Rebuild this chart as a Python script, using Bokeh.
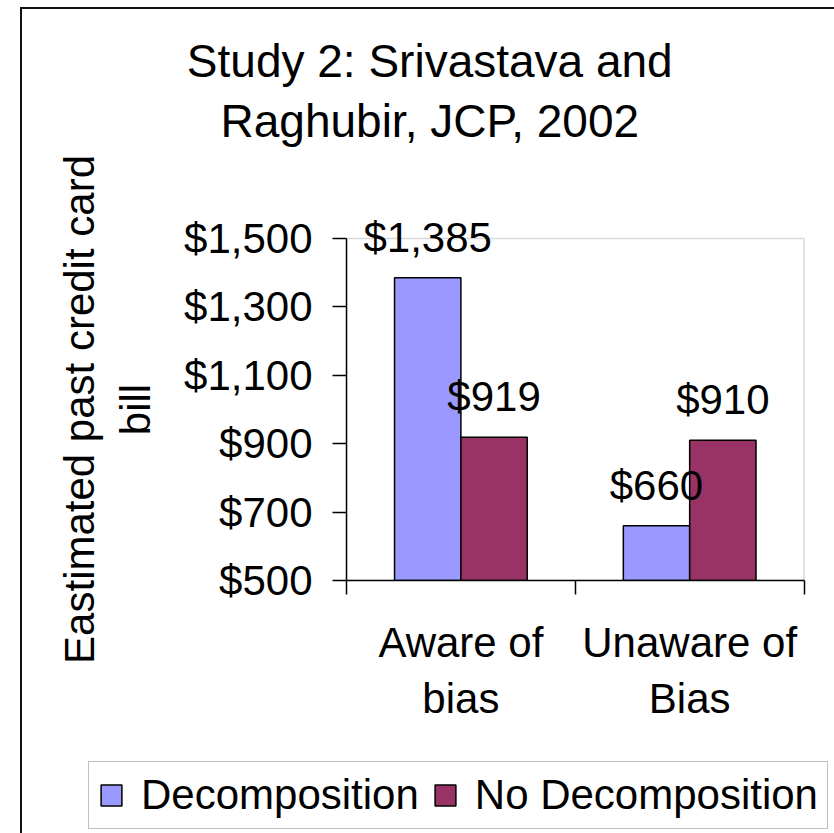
from bokeh.plotting import figure
from bokeh.layouts import column, row
from bokeh.models import (Range1d, FixedTicker, NumeralTickFormatter, LabelSet,
                          ColumnDataSource, Legend, LegendItem, LinearAxis, BoxAnnotation)
from bokeh.core.properties import value
from bokeh.embed import file_html
from bokeh.resources import INLINE
import numpy as np

# ---- data ----
categories = ["Aware of\nbias", "Unaware of\nBias"]
series = ["Decomposition", "No Decomposition"]
decomposition = [1385, 660]
no_decomposition = [919, 910]
y_ticks = [500, 700, 900, 1100, 1300, 1500]
colors = ["#9999FF", "#993366"]
title_text = "Study 2: Srivastava and\nRaghubir, JCP, 2002"
y_title = "Eastimated past credit card\nbill"

FONT = "Liberation Sans"
FS = "42px"
Y0, Y1 = y_ticks[0], y_ticks[-1]
Y_TOP = 1570          # headroom so the tallest value label is not clipped
N = len(categories)
X_END = N + 0.05      # small pad so the plot-area border on the right shows
values = [decomposition, no_decomposition]

W = 813
p = figure(width=W, height=746, output_backend="svg", toolbar_location=None,
           x_range=Range1d(0, X_END), y_range=Range1d(Y0, Y_TOP),
           min_border_left=324, min_border_right=20, min_border_top=205,
           min_border_bottom=175, background_fill_color="white",
           border_fill_color="white")
p.xgrid.visible = False
p.ygrid.visible = False
p.outline_line_color = None

# plot-area border (grey), behind axes and bars
p.add_layout(BoxAnnotation(left=0, right=N, bottom=Y0, top=Y1, fill_alpha=0,
                           line_color="#808080", line_width=1.5, level="underlay"))

bar_w = 0.29
centers = np.arange(N) + 0.5
for k, (name, vals) in enumerate(zip(series, values)):
    xs = centers + (k - 0.5) * bar_w
    src = ColumnDataSource(dict(x=xs, top=vals, text=[f"${v:,}" for v in vals]))
    p.vbar(x="x", top="top", bottom=Y0, width=bar_w, source=src,
           fill_color=colors[k], line_color="black", line_width=1.5)
    p.add_layout(LabelSet(x="x", y="top", text="text", source=src, y_offset=26,
                          text_align="center", text_baseline="alphabetic",
                          text_font=value(FONT), text_font_size=value(FS),
                          text_color="black"))

# y axis
ya = p.yaxis[0]
ya.bounds = (Y0, Y1)
ya.ticker = FixedTicker(ticks=y_ticks, minor_ticks=[])
ya.formatter = NumeralTickFormatter(format="$0,0")
ya.major_tick_out = 14
ya.major_tick_in = 0
ya.minor_tick_out = 0
ya.minor_tick_in = 0
ya.major_label_standoff = 20
ya.major_label_text_font = FONT
ya.major_label_text_font_size = FS
ya.major_label_text_color = "black"
ya.axis_line_color = "black"
ya.axis_line_width = 1.5
ya.major_tick_line_color = "black"
ya.major_tick_line_width = 1.5

# y-axis title, centred on the value axis span (500..1500)
y_mid = (Y0 + Y1) / 2
yt = LinearAxis(ticker=FixedTicker(ticks=[y_mid], minor_ticks=[]),
                major_label_overrides={y_mid: y_title},
                major_label_orientation="vertical",
                axis_line_color=None, major_tick_line_color=None,
                minor_tick_line_color=None, major_tick_out=0, major_tick_in=0,
                minor_tick_out=0, minor_tick_in=0, major_label_standoff=22,
                major_label_text_font=FONT, major_label_text_font_size=FS,
                major_label_text_color="black")
p.add_layout(yt, "left")

# x axis (ticks at category boundaries, labels at category centres)
xa = p.xaxis[0]
xa.bounds = (0, N)
xa.ticker = FixedTicker(ticks=list(centers), minor_ticks=list(np.arange(N + 1)))
xa.major_label_overrides = {float(c): lab for c, lab in zip(centers, categories)}
xa.major_tick_out = 0
xa.major_tick_in = 0
xa.minor_tick_out = 14
xa.minor_tick_in = 0
xa.minor_tick_line_color = "black"
xa.minor_tick_line_width = 1.5
xa.axis_line_color = "black"
xa.axis_line_width = 1.5
xa.major_label_standoff = 24
xa.major_label_text_font = FONT
xa.major_label_text_font_size = FS
xa.major_label_text_color = "black"

# chart title: centred over the whole chart area (left of the plot-area centre)
title_x = (429 - 346) / 228.0
ta = LinearAxis(ticker=FixedTicker(ticks=[title_x], minor_ticks=[]),
                major_label_overrides={title_x: title_text},
                axis_line_color=None, major_tick_line_color=None,
                minor_tick_line_color=None, major_tick_out=0, major_tick_in=0,
                minor_tick_out=0, minor_tick_in=0, major_label_standoff=68,
                major_label_text_font=FONT, major_label_text_font_size="46px",
                major_label_text_line_height=1.15,
                major_label_text_color="black")
p.add_layout(ta, "above")

# legend strip (separate small figure underneath); proxy bars are hidden
pl = figure(width=W, height=78, output_backend="svg", toolbar_location=None,
            x_range=Range1d(0, 1), y_range=Range1d(0, 1),
            x_axis_location=None, y_axis_location=None, min_border=0,
            background_fill_color="white", border_fill_color="white")
pl.outline_line_color = None
pl.grid.visible = False
leg_r = [pl.vbar(x=centers, top=vals, bottom=Y0, width=bar_w, fill_color=c,
                 line_color="black", line_width=1.5, visible=False)
         for c, vals in zip(colors, values)]
legend = Legend(items=[LegendItem(label=s, renderers=[r]) for s, r in zip(series, leg_r)],
                orientation="horizontal", location=(66, 4),
                label_text_font=FONT, label_text_font_size=FS, label_text_color="black",
                glyph_width=26, glyph_height=26, label_standoff=17, spacing=13,
                padding=9, margin=0, border_line_color="#808080",
                border_line_width=1.5, background_fill_color="white")
pl.add_layout(legend, "center")

layout = column(p, row(pl), spacing=0,
                styles={"margin-left": "20px", "margin-top": "7px",
                        "border-left": "2px solid #111111",
                        "border-top": "2px solid #111111"})

open("out.html", "w").write(file_html(layout, INLINE))
